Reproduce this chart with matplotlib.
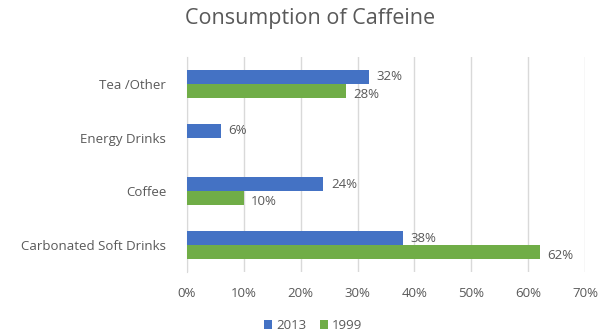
import matplotlib.pyplot as plt
import numpy as np

plt.rcParams['font.family'] = ['Open Sans', 'DejaVu Sans']

categories = ['Carbonated Soft Drinks', 'Coffee', 'Energy Drinks', 'Tea /Other']
vals_2013 = [38, 24, 6, 32]
vals_1999 = [62, 10, 0, 28]

blue = '#4472C4'
green = '#70AD47'
grey = '#595959'

fig = plt.figure(figsize=(6.08, 3.32), dpi=100)
ax = fig.add_axes([0.3076, 0.181, 0.6546, 0.647])

y = np.arange(len(categories))
h = 0.26
ax.barh(y + h / 2, vals_2013, height=h, color=blue, label='2013', zorder=3)
ax.barh(y - h / 2, vals_1999, height=h, color=green, label='1999', zorder=3)

fs = 9.5
for yi, v in zip(y, vals_2013):
    if v:
        ax.text(v + 1.3, yi + h / 2, f'{v}%', va='center', ha='left', fontsize=fs, color=grey)
for yi, v in zip(y, vals_1999):
    if v:
        ax.text(v + 1.3, yi - h / 2 - 0.06, f'{v}%', va='center', ha='left', fontsize=fs, color=grey)

ax.set_xlim(0, 70)
ax.set_ylim(-0.5, 3.5)
ax.set_xticks(range(0, 71, 10))
ax.set_xticklabels([f'{t}%' for t in range(0, 71, 10)])
ax.set_yticks(y)
ax.set_yticklabels(categories)
ax.tick_params(axis='both', length=0, labelsize=fs, colors=grey)
ax.tick_params(axis='x', pad=11)
ax.tick_params(axis='y', pad=15)
ax.grid(axis='x', color='#D9D9D9', linewidth=1, zorder=0)
for s in ['top', 'right', 'bottom']:
    ax.spines[s].set_visible(False)
ax.spines['left'].set_color('#D9D9D9')

fig.suptitle('Consumption of Caffeine', x=0.51, y=0.975, fontsize=15.5, color=grey)
fig.legend(loc='lower center', bbox_to_anchor=(0.515, -0.035), ncol=2, frameon=False,
           fontsize=fs, handlelength=0.65, handleheight=0.65, columnspacing=1.0,
           handletextpad=0.3, labelcolor=grey)

fig.savefig('out.png', dpi=100)
